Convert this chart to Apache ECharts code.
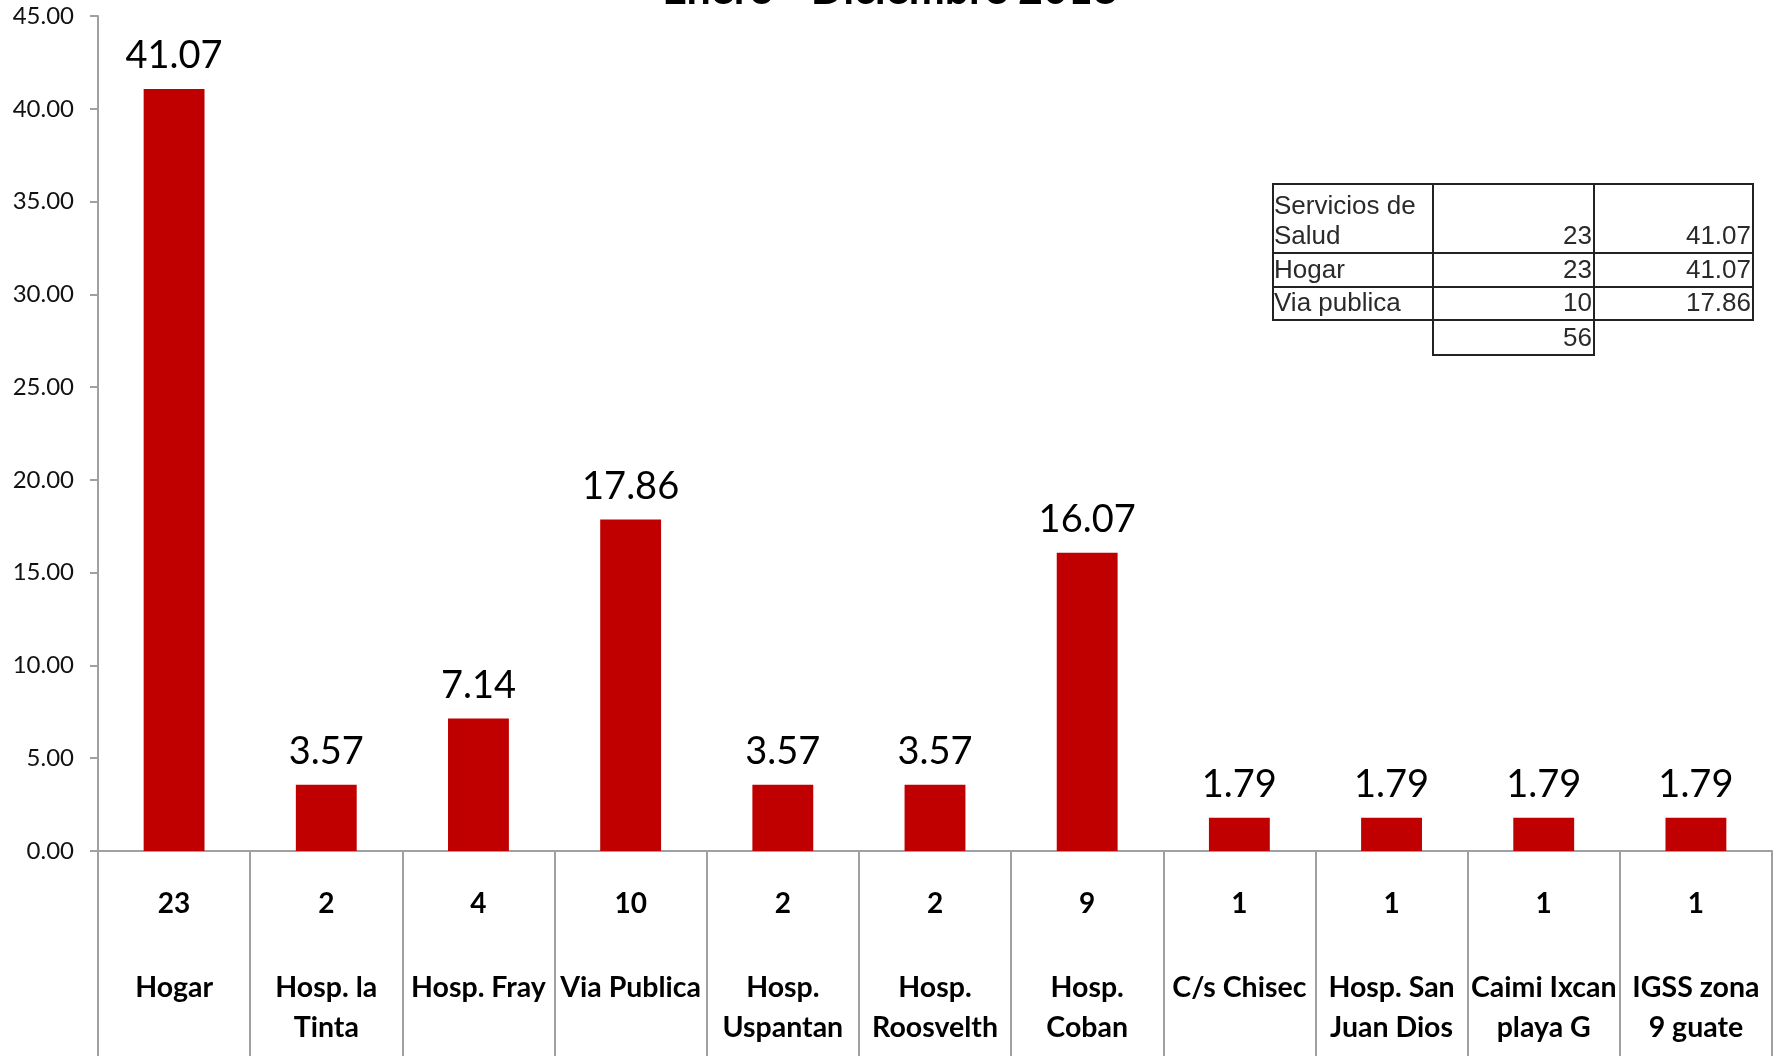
<!DOCTYPE html>
<html>
<head>
<meta charset="utf-8">
<script src="https://cdn.jsdelivr.net/npm/echarts@6/dist/echarts.min.js"></script>
<style>
  html, body { margin: 0; padding: 0; background: #fff; }
  #chart { width: 1781px; height: 1056px; }
</style>
</head>
<body>
<div id="chart"></div>
<script>
// ---- Data ----
const titleText = 'Enero - Diciembre 2018';
const categories = ['Hogar', 'Hosp. la\nTinta', 'Hosp. Fray', 'Via Publica', 'Hosp.\nUspantan', 'Hosp.\nRoosvelth', 'Hosp.\nCoban', 'C/s Chisec', 'Hosp. San\nJuan Dios', 'Caimi Ixcan\nplaya G', 'IGSS zona\n9 guate'];
const counts = [23, 2, 4, 10, 2, 2, 9, 1, 1, 1, 1];
const percents = [41.07, 3.57, 7.14, 17.86, 3.57, 3.57, 16.07, 1.79, 1.79, 1.79, 1.79];
const yMin = 0, yMax = 45, yInterval = 5;

const tableLabels = ['Servicios de\nSalud', 'Hogar', 'Via publica'];
const tableCounts = [23, 23, 10];
const tablePercents = [41.07, 41.07, 17.86];
const tableTotal = 56;

// ---- Chart ----
const chart = echarts.init(document.getElementById('chart'), null, { renderer: 'canvas' });
const axisGrey = '#a0a0a0';

// table graphics
const colX = [1273, 1433, 1594, 1753];
const rowY = [184, 253, 287, 320, 355];
const tableFont = '26px "Liberation Sans", Arial, sans-serif';
const tableColor = '#2a2a2a';
const graphics = [];
for (let i = 0; i < tableLabels.length; i++) {
  for (let j = 0; j < 3; j++) {
    graphics.push({
      type: 'rect',
      shape: { x: colX[j], y: rowY[i], width: colX[j + 1] - colX[j], height: rowY[i + 1] - rowY[i] },
      style: { fill: 'rgba(0,0,0,0)', stroke: '#222', lineWidth: 2 }
    });
  }
  graphics.push({
    type: 'text', x: colX[0] + 1, y: rowY[i + 1] - 1,
    style: { text: tableLabels[i], font: tableFont, fill: tableColor, align: 'left', verticalAlign: 'bottom', textAlign: 'left', textVerticalAlign: 'bottom', lineHeight: 30 }
  });
  graphics.push({
    type: 'text', x: colX[2] - 2, y: rowY[i + 1] - 1,
    style: { text: String(tableCounts[i]), font: tableFont, fill: tableColor, align: 'right', verticalAlign: 'bottom', textAlign: 'right', textVerticalAlign: 'bottom', lineHeight: 30 }
  });
  graphics.push({
    type: 'text', x: colX[3] - 2, y: rowY[i + 1] - 1,
    style: { text: tablePercents[i].toFixed(2), font: tableFont, fill: tableColor, align: 'right', verticalAlign: 'bottom', textAlign: 'right', textVerticalAlign: 'bottom', lineHeight: 30 }
  });
}
graphics.push({
  type: 'rect',
  shape: { x: colX[1], y: rowY[3], width: colX[2] - colX[1], height: rowY[4] - rowY[3] },
  style: { fill: 'rgba(0,0,0,0)', stroke: '#222', lineWidth: 2 }
});
graphics.push({
  type: 'text', x: colX[2] - 2, y: rowY[4] - 1,
  style: { text: String(tableTotal), font: tableFont, fill: tableColor, align: 'right', verticalAlign: 'bottom', textAlign: 'right', textVerticalAlign: 'bottom', lineHeight: 30 }
});
// title (cut off at top)
graphics.push({
  type: 'text', x: 890, y: 12,
  style: { text: titleText, font: 'bold 43px Lato, sans-serif', fill: '#000', align: 'center', verticalAlign: 'bottom', textAlign: 'center', textVerticalAlign: 'bottom' }
});

const option = {
  backgroundColor: '#fff',
  animation: false,
  grid: { left: 98, right: 9, top: 16, bottom: 205, containLabel: false },
  xAxis: {
    type: 'category',
    data: categories,
    boundaryGap: true,
    axisLine: { show: true, lineStyle: { color: axisGrey, width: 2 } },
    axisTick: { show: true, interval: 0, length: 212, alignWithLabel: false, lineStyle: { color: axisGrey, width: 2 } },
    axisLabel: {
      interval: 0,
      margin: 33,
      formatter: function (value, idx) {
        const lines = value.split('\n').map(s => '{n|' + s + '}').join('\n');
        return '{c|' + counts[idx] + '}\n{s| }\n' + lines;
      },
      rich: {
        c: { fontFamily: 'Lato', fontWeight: 'bold', fontSize: 28, lineHeight: 40, color: '#000' },
        s: { fontSize: 10, lineHeight: 44 },
        n: { fontFamily: 'Lato', fontWeight: 'bold', fontSize: 28.5, lineHeight: 40, color: '#000' }
      }
    },
    splitLine: { show: false }
  },
  yAxis: {
    type: 'value',
    min: yMin, max: yMax, interval: yInterval,
    axisLine: { show: true, lineStyle: { color: axisGrey, width: 2 } },
    axisTick: { show: true, length: 8, lineStyle: { color: axisGrey, width: 2 } },
    axisLabel: {
      margin: 24,
      fontFamily: 'Lato', fontSize: 24, color: '#111',
      formatter: v => v.toFixed(2)
    },
    splitLine: { show: false }
  },
  series: [{
    type: 'bar',
    data: percents,
    barWidth: '40%',
    itemStyle: { color: '#C00000' },
    label: {
      show: true, position: 'top', distance: 14,
      fontFamily: 'Lato', fontSize: 38, color: '#000',
      formatter: p => p.value.toFixed(2)
    }
  }],
  graphic: graphics
};
chart.setOption(option);
</script>
</body>
</html>
